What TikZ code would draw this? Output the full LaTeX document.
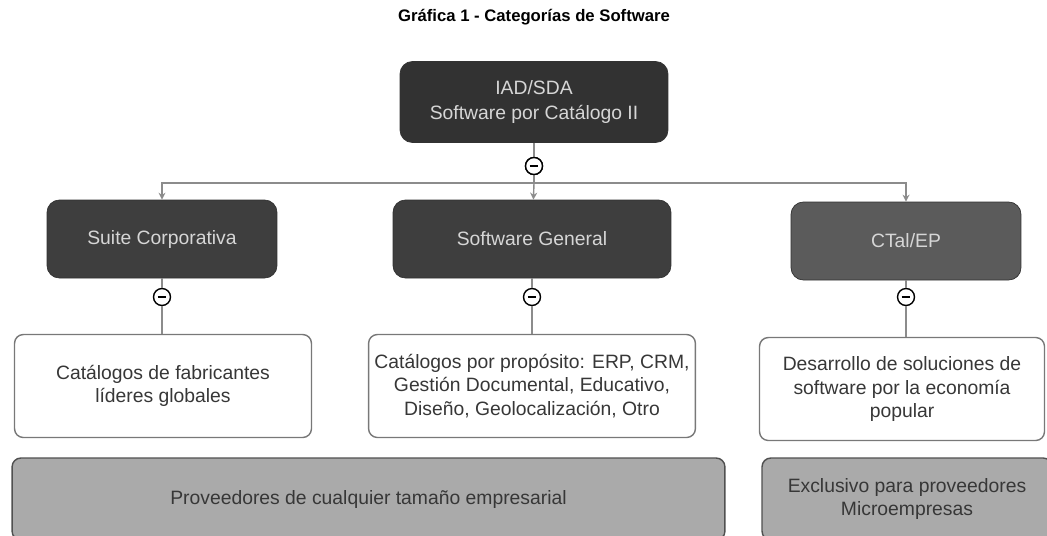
\documentclass[tikz,border=0pt]{standalone}
\usepackage{fontspec}
\setmainfont{Liberation Sans}
\usepackage{tikz}
\usetikzlibrary{arrows.meta, positioning, calc, shapes}
\usepackage{xcolor}
\definecolor{darkbox}{RGB}{62,62,62}
\definecolor{topbox}{RGB}{50,50,50}
\definecolor{boxtext}{RGB}{214,214,214}
\definecolor{linegray}{RGB}{140,140,140}
\definecolor{descline}{RGB}{120,120,120}
\definecolor{basefill}{RGB}{170,170,170}
\definecolor{baseline}{RGB}{80,80,80}
\definecolor{inktext}{RGB}{55,55,55}

\tikzset{
  catbox/.style={rectangle, rounded corners=7pt, fill=darkbox, draw=darkbox!80!black,
    text=boxtext, align=center, minimum width=4.6cm, minimum height=1.56cm,
    font=\fontsize{11}{14}\selectfont},
  descbox/.style={rectangle, rounded corners=5pt, fill=white, draw=descline, thick,
    text=inktext, align=center, minimum height=2.06cm,
    font=\fontsize{11}{13.5}\selectfont},
  basebox/.style={rectangle, rounded corners=5pt, fill=basefill, draw=baseline, thick,
    text=inktext, align=center, minimum height=1.64cm,
    font=\fontsize{11}{13.5}\selectfont},
  toggle/.style={circle, draw=black, thick, fill=white, minimum size=0.34cm, inner sep=0pt,
    path picture={\draw[black, line width=1.1pt]
      ([xshift=-2.5pt]path picture bounding box.center) --
      ([xshift=2.5pt]path picture bounding box.center);}},
  conn/.style={linegray, thick},
  tip/.style={-{Stealth[length=4pt, width=4pt]}}
}

\begin{document}
\begin{tikzpicture}[x=0.02cm, y=-0.02cm]
  \clip (0,0) rectangle (1047,535);
  \fill[white] (0,0) rectangle (1047,535);

  % Title
  \node[font=\bfseries\fontsize{9.5}{11}\selectfont] (title) at (534,17) {Gráfica 1 - Categorías de Software};

  % Root
  \node[catbox, fill=topbox, minimum width=5.36cm, minimum height=1.62cm] (root) at (534,102)
    {IAD/SDA\\Software por Catálogo II};
  \node[toggle] (t0) at (534,166) {};
  \coordinate (bus) at (534,183);

  % Categories
  \node[catbox] (suite) at (162,239) {Suite Corporativa};
  \node[catbox, minimum width=5.56cm] (general) at (532,239) {Software General};
  \node[catbox, fill=darkbox!85!white] (ctep) at (906,241) {CTal/EP};

  \draw[conn] (root) -- (t0);
  \draw[conn] (t0) -- (bus);
  \draw[conn, tip] (bus) -| (suite);
  \draw[conn, tip] (bus) -- (general);
  \draw[conn, tip] (bus) -| (ctep);
  \node[toggle] at (t0) {};

  % Descriptions
  \node[toggle] (t1) at (162,297) {};
  \node[toggle] (t2) at (532,297) {};
  \node[toggle] (t3) at (906,297) {};
  \node[descbox, minimum width=5.94cm] (dsuite) at (163,386) {Catálogos de fabricantes\\líderes globales};
  \node[descbox, minimum width=6.4cm] (dgeneral) at (532,386)
    {Catálogos por propósito: ERP, CRM,\\Gestión Documental, Educativo,\\Diseño, Geolocalización, Otro};
  \node[descbox, minimum width=5.7cm] (dctep) at (902,389)
    {Desarrollo de soluciones de\\software por la economía\\popular};

  \foreach \up/\tg/\dn in {suite/t1/dsuite, general/t2/dgeneral, ctep/t3/dctep} {
    \draw[conn] (\up) -- (\tg);
    \draw[conn] (\tg) -- (\tg |- \dn.north);
  }

  % Providers
  \node[basebox, minimum width=14.26cm] (anysize) at (368.5,499)
    {Proveedores de cualquier tamaño empresarial};
  \node[basebox, minimum width=5.8cm] (micro) at (907,499)
    {Exclusivo para proveedores\\Microempresas};
\end{tikzpicture}
\end{document}
